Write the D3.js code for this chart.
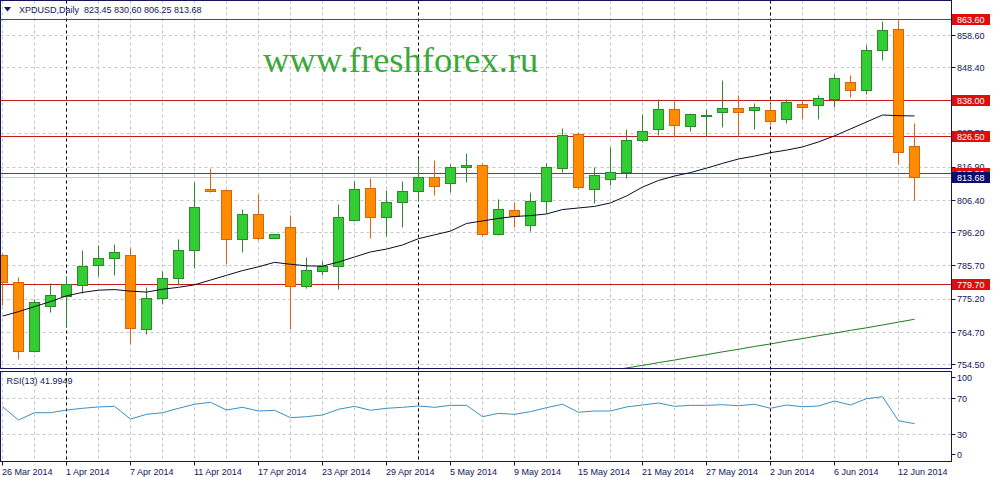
<!DOCTYPE html>
<html><head><meta charset="utf-8">
<script src="https://cdn.jsdelivr.net/npm/d3@7"></script>
<style>body{margin:0;background:#fff;overflow:hidden}svg{display:block}</style>
</head><body><svg id="c" width="993" height="477"></svg>
<script>
const dates = ["26 Mar 2014","27 Mar 2014","28 Mar 2014","31 Mar 2014","1 Apr 2014","2 Apr 2014","3 Apr 2014","4 Apr 2014",
"7 Apr 2014","8 Apr 2014","9 Apr 2014","10 Apr 2014","11 Apr 2014","14 Apr 2014","15 Apr 2014","16 Apr 2014",
"17 Apr 2014","18 Apr 2014","21 Apr 2014","22 Apr 2014","23 Apr 2014","24 Apr 2014","25 Apr 2014","28 Apr 2014",
"29 Apr 2014","30 Apr 2014","1 May 2014","2 May 2014","5 May 2014","6 May 2014","7 May 2014","8 May 2014",
"9 May 2014","12 May 2014","13 May 2014","14 May 2014","15 May 2014","16 May 2014","19 May 2014","20 May 2014",
"21 May 2014","22 May 2014","23 May 2014","26 May 2014","27 May 2014","28 May 2014","29 May 2014","30 May 2014",
"2 Jun 2014","3 Jun 2014","4 Jun 2014","5 Jun 2014","6 Jun 2014","9 Jun 2014","10 Jun 2014","11 Jun 2014",
"12 Jun 2014","13 Jun 2014"];
const opens  = [789.1,780.5,758.5,772.9,775.9,779.6,785.7,788.1,789.0,765.6,775.4,781.8,790.6,809.9,809.4,794.1,
801.8,794.4,797.9,779.3,784.0,785.4,800.0,810.2,801.1,805.8,809.1,813.7,811.7,816.7,817.5,795.7,
803.3,798.5,806.2,816.4,827.1,809.9,813.1,815.3,825.3,828.9,835.0,829.7,832.8,834.3,835.5,834.9,
834.8,832.0,836.7,836.3,838.4,843.7,841.2,853.7,860.5,823.45];
const highs  = [789.5,782.0,774.9,780.0,782.3,790.5,792.0,792.3,791.2,778.9,783.8,794.1,812.0,816.5,809.9,803.4,
808.3,795.8,801.5,788.4,787.0,805.0,812.3,813.2,809.4,812.5,819.7,818.9,817.9,821.1,818.1,806.7,
805.7,809.0,818.1,829.0,827.9,816.9,823.1,828.9,833.6,838.4,837.6,833.9,835.0,844.2,839.7,837.1,
837.1,838.4,837.9,839.7,846.1,845.8,855.5,863.1,863.4,830.60];
const lows   = [773.3,756.1,758.2,770.9,766.5,777.0,782.3,782.5,761.2,764.1,773.5,779.6,784.8,808.8,786.0,789.9,
793.6,794.3,765.6,778.4,782.8,778.1,799.7,794.2,794.9,797.8,806.0,807.8,808.8,812.0,794.9,795.4,
797.9,796.6,802.3,815.3,809.7,805.5,811.0,813.3,824.8,826.9,826.4,828.1,826.5,829.5,826.5,828.9,
830.2,830.8,832.0,832.0,835.7,838.9,840.0,850.8,817.6,806.25];
const closes = [780.3,758.5,774.2,776.2,779.9,785.6,788.1,790.0,766.0,775.4,781.8,790.6,804.2,809.2,794.1,801.8,
794.4,795.7,779.3,784.1,785.6,801.1,809.9,801.1,805.8,809.1,813.7,810.7,816.9,817.5,795.5,803.4,
801.2,806.2,816.9,826.8,810.4,814.3,815.3,825.2,828.3,835.3,830.0,833.6,833.3,835.5,834.3,835.8,
831.4,837.4,835.8,838.7,845.0,841.2,853.7,860.1,821.5,813.68];
const maValues = [769.8,771.2,772.8,774.4,776.2,777.3,778.0,778.2,777.7,777.4,778.3,778.9,779.7,781.2,782.7,784.2,
785.4,786.8,786.2,785.7,785.6,786.9,788.5,790.1,791.0,792.3,794.3,795.5,796.7,799.1,799.9,800.7,
801.3,801.6,802.1,803.5,804.0,804.5,805.6,807.8,810.6,812.7,814.1,815.2,816.6,818.1,819.5,820.4,
821.5,822.3,823.3,824.9,826.8,829.0,831.2,833.4,833.2,833.1];
const longMaStart = 38;
const longMaValues = [752.5,753.4,754.2,755.1,755.9,756.8,757.6,758.5,759.3,760.2,761.0,761.9,762.7,763.6,764.4,
765.3,766.1,767.0,767.9,768.8];
const rsiValues = [60.9,46.1,54.2,54.2,57.2,59.1,60.6,61.3,47.2,52.4,54.2,59.1,63.6,65.8,57.2,60.2,
56.1,56.9,48.7,49.8,51.7,58.0,61.3,56.9,59.1,60.2,61.7,60.2,62.4,62.4,49.8,53.5,
52.4,55.4,59.8,63.6,54.7,56.1,56.1,60.6,62.8,65.0,61.3,62.4,62.4,63.1,62.0,63.6,
59.1,62.8,60.9,61.7,67.2,62.8,69.8,72.0,45.3,41.9949];
const priceTicks = ["858.60","848.40","838.00","827.70","816.90","806.40","796.20","785.70","775.20","764.70","754.50"];
const rsiTicks = ["100","70","30","0"];
const rsiGrid = [70, 30];
const levelLines = [863.60, 838.00, 826.50, 815.00, 779.70];
const lastPrice = 813.68;
const headerText = "XPDUSD,Daily  823.45 830.60 806.25 813.68";
const rsiText = "RSI(13) 41.9949";
const watermark = "www.freshforex.ru";

const svg = d3.select("#c");
const L = 0.5, R = 951.5, MT = 0.5, MB = 368.5, RT = 371.5, RB = 461.5;
const navy = "#14145a", grid = "#c6c6c6";

const x = d3.scalePoint().domain(dates).range([2.5, 914.5]);
const y = d3.scaleLinear().domain([753.23, 869.62]).range([MB, MT]);
const ry = d3.scaleLinear().domain([0, 100]).range([RB, RT]);
const snap = v => Math.round(v - 0.5) + 0.5;

svg.append("rect").attr("width", 993).attr("height", 477).attr("fill", "#fff");
const defs = svg.append("defs");
defs.append("clipPath").attr("id", "cm").append("rect").attr("x", L).attr("y", MT).attr("width", R - L).attr("height", MB - MT);
defs.append("clipPath").attr("id", "cr").append("rect").attr("x", L).attr("y", RT).attr("width", R - L).attr("height", RB - RT);

// vertical grid (every 2 bars)
const gx = dates.filter((d, i) => i % 2 === 0);
[[MT, MB], [RT, RB]].forEach(([t, b]) => {
  svg.append("g").selectAll("line").data(gx).join("line")
    .attr("x1", d => x(d)).attr("x2", d => x(d)).attr("y1", t).attr("y2", b)
    .attr("stroke", grid).attr("stroke-dasharray", "3,3");
});
// horizontal grid
svg.append("g").selectAll("line").data(priceTicks).join("line")
  .attr("x1", L).attr("x2", R).attr("y1", d => snap(y(+d))).attr("y2", d => snap(y(+d)))
  .attr("stroke", grid).attr("stroke-dasharray", "3,3");
svg.append("g").selectAll("line").data(rsiGrid).join("line")
  .attr("x1", L).attr("x2", R).attr("y1", d => snap(ry(d))).attr("y2", d => snap(ry(d)))
  .attr("stroke", grid).attr("stroke-dasharray", "3,3");

// period separators
const seps = dates.filter((d, i) => i > 0 && d.split(" ")[1] !== dates[i - 1].split(" ")[1]);
svg.append("g").selectAll("line").data(seps).join("line")
  .attr("x1", d => x(d)).attr("x2", d => x(d)).attr("y1", MT).attr("y2", RB)
  .attr("stroke", "#000").attr("stroke-dasharray", "3,3");

// watermark
svg.append("text").attr("x", 263).attr("y", 72).text(watermark)
  .attr("font-family", "'Liberation Serif','Times New Roman',serif").attr("font-size", 36.5)
  .attr("fill", "#3aa83a");

const main = svg.append("g").attr("clip-path", "url(#cm)");
// bid line
main.append("line").attr("x1", L).attr("x2", R).attr("y1", snap(y(lastPrice))).attr("y2", snap(y(lastPrice)))
  .attr("stroke", "#c8c8c8");
// level lines
main.append("g").selectAll("line").data(levelLines).join("line")
  .attr("x1", L).attr("x2", R).attr("y1", d => snap(y(d))).attr("y2", d => snap(y(d)))
  .attr("stroke", "#c41a1a");

// candles
const bars = dates.map((d, i) => ({d, o: opens[i], h: highs[i], l: lows[i], c: closes[i]}));
main.append("g").selectAll("line").data(bars).join("line")
  .attr("x1", b => x(b.d)).attr("x2", b => x(b.d))
  .attr("y1", b => snap(y(b.h))).attr("y2", b => snap(y(b.l)))
  .attr("stroke", b => b.c >= b.o ? "#2c8a2c" : "#d9640c");
main.append("g").selectAll("rect").data(bars).join("rect")
  .attr("x", b => x(b.d) - 5).attr("width", 10)
  .attr("y", b => snap(y(Math.max(b.o, b.c))))
  .attr("height", b => Math.max(1, snap(y(Math.min(b.o, b.c))) - snap(y(Math.max(b.o, b.c)))))
  .attr("fill", b => b.c >= b.o ? "#33cc33" : "#ff8c00")
  .attr("stroke", b => b.c >= b.o ? "#2c8a2c" : "#d9640c");

// moving averages
main.append("path").datum(maValues)
  .attr("d", d3.line().x((v, i) => x(dates[i])).y(v => y(v)))
  .attr("fill", "none").attr("stroke", "#0a0a28").attr("stroke-width", 1);
main.append("path").datum(longMaValues)
  .attr("d", d3.line().x((v, i) => x(dates[i + longMaStart])).y(v => y(v)))
  .attr("fill", "none").attr("stroke", "#1f7a1f").attr("stroke-width", 1);

// RSI
svg.append("g").attr("clip-path", "url(#cr)").append("path").datum(rsiValues)
  .attr("d", d3.line().x((v, i) => x(dates[i])).y(v => ry(v)))
  .attr("fill", "none").attr("stroke", "#3d8fc0").attr("stroke-width", 1);

// frames
svg.append("rect").attr("x", L).attr("y", MT).attr("width", R - L).attr("height", MB - MT)
  .attr("fill", "none").attr("stroke", navy);
svg.append("rect").attr("x", L).attr("y", RT).attr("width", R - L).attr("height", RB - RT)
  .attr("fill", "none").attr("stroke", navy);

const font = "'Liberation Sans',Arial,sans-serif";
// price axis
const pa = svg.append("g");
pa.selectAll("line").data(priceTicks).join("line")
  .attr("x1", R).attr("x2", R + 4).attr("y1", d => snap(y(+d))).attr("y2", d => snap(y(+d))).attr("stroke", navy);
pa.selectAll("text").data(priceTicks).join("text")
  .attr("x", 957).attr("y", d => y(+d) + 3.3).text(d => d)
  .attr("font-family", font).attr("font-size", 9).attr("fill", navy);

// level labels
const lab = svg.append("g");
const tagData = levelLines.map(v => ({v, bg: "#e00d0d"})).concat([{v: lastPrice, bg: "#0c0c6e"}]);
tagData.forEach(t => {
  const cy = y(t.v);
  lab.append("rect").attr("x", 952).attr("y", Math.round(cy - 5.5)).attr("width", 38).attr("height", 11).attr("fill", t.bg);
  lab.append("text").attr("x", 957).attr("y", cy + 3.5).text(t.v.toFixed(2))
    .attr("font-family", font).attr("font-size", 9).attr("fill", "#fff");
});

// RSI axis
const ra = svg.append("g");
ra.selectAll("line").data(rsiTicks).join("line")
  .attr("x1", R).attr("x2", R + 4).attr("y1", d => snap(Math.min(RB - 7, Math.max(RT + 6, ry(+d))))).attr("y2", d => snap(Math.min(RB - 7, Math.max(RT + 6, ry(+d))))).attr("stroke", navy);
ra.selectAll("text").data(rsiTicks).join("text")
  .attr("x", 957).attr("y", d => Math.min(RB - 7, Math.max(RT + 6, ry(+d))) + 3.3).text(d => d)
  .attr("font-family", font).attr("font-size", 9).attr("fill", navy);

// date axis
const dl = dates.filter((d, i) => i % 4 === 0);
const da = svg.append("g");
da.selectAll("line").data(dl).join("line")
  .attr("x1", d => x(d)).attr("x2", d => x(d)).attr("y1", RB).attr("y2", RB + 4).attr("stroke", navy);
da.selectAll("text").data(dl).join("text")
  .attr("x", d => x(d) - 0.5).attr("y", 474.5).text(d => d)
  .attr("font-family", font).attr("font-size", 9).attr("fill", navy);

// header
svg.append("path").attr("d", "M4,7 L11,7 L7.5,11.5 Z").attr("fill", navy);
svg.append("text").attr("x", 19).attr("y", 13).text(headerText).attr("xml:space", "preserve")
  .style("white-space", "pre")
  .attr("font-family", font).attr("font-size", 9).attr("fill", navy);
svg.append("text").attr("x", 6.5).attr("y", 383.5).text(rsiText)
  .attr("font-family", font).attr("font-size", 9).attr("fill", navy);
</script>
</body></html>
